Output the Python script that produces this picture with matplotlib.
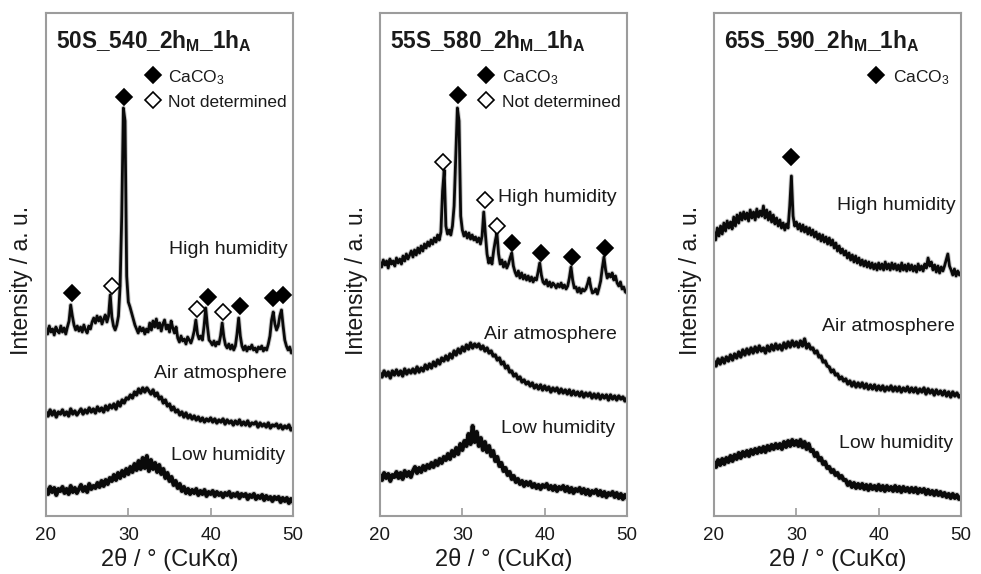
import numpy as np
import matplotlib
matplotlib.use("Agg")
import matplotlib.pyplot as plt

plt.rcParams['font.family'] = ['Liberation Sans', 'DejaVu Sans']
plt.rcParams['mathtext.fontset'] = 'custom'
plt.rcParams['mathtext.rm'] = 'Liberation Sans'
plt.rcParams['mathtext.it'] = 'Liberation Sans:italic'
plt.rcParams['mathtext.bf'] = 'Liberation Sans:bold'

# ---------------- data (stacked intensities, a.u.) ----------------
# High-humidity curves sampled every 0.2 deg, air/low every 0.25 deg (20..50)
x_fine = np.linspace(20, 50, 151)
x_coarse = np.linspace(20, 50, 121)

hh_50S = [188,182,190,184,187,181,189,185,183,190,
          184,188,182,189,195,211,200,191,186,190,
          185,189,184,191,186,183,190,187,194,198,
          193,200,195,199,192,197,201,194,200,221,
          199,190,186,191,200,230,300,408,395,240,
          214,209,203,197,191,187,183,189,185,188,
          182,187,184,193,186,195,189,197,188,193,
          185,192,196,187,191,184,195,188,183,189,
          178,174,180,175,177,172,179,176,173,178,
          185,196,182,177,180,176,190,208,190,176,
          174,171,175,170,174,172,180,193,179,171,
          168,172,167,171,166,170,182,198,180,170,
          166,170,165,169,167,171,166,168,164,169,
          167,170,165,168,166,172,180,196,204,192,
          186,190,200,206,190,176,170,166,169,163,
          164]
air_50S = [104,100,106,101,105,99,104,102,
           106,101,104,100,107,102,105,101,
           104,107,102,106,103,108,104,107,
           103,109,105,108,104,110,106,111,
           108,112,107,114,110,116,113,118,
           117,121,118,124,121,127,123,128,
           124,128,125,122,126,120,123,117,
           119,113,116,110,112,106,109,104,
           106,101,104,99,103,98,101,97,
           100,96,99,95,98,94,97,95,
           98,94,97,93,96,94,97,92,
           96,93,95,91,95,92,96,91,
           94,91,95,90,93,92,94,89,
           93,90,92,89,93,88,91,90,
           92,88,91,87,90,88,91,86,
           88]
low_50S = [27,22,29,24,28,21,27,25,
           29,23,27,22,30,24,28,23,
           27,31,25,29,24,32,27,30,
           28,33,29,35,30,36,32,38,
           35,41,36,43,38,45,40,47,
           42,49,44,52,46,55,47,58,
           48,60,45,56,47,53,44,51,
           42,47,38,43,35,39,31,35,
           28,32,25,29,23,27,22,26,
           23,27,21,25,22,26,20,24,
           22,25,20,24,21,23,19,23,
           21,24,19,22,20,23,18,22,
           20,22,17,21,19,22,17,20,
           18,21,16,20,17,19,15,19,
           17,19,14,18,15,18,13,17,
           14]

hh_55S = [254,249,256,251,255,248,257,252,255,250,
          258,253,257,252,260,255,262,257,261,265,
          259,266,261,268,263,270,265,272,268,274,
          270,276,272,278,274,281,276,284,325,346,
          290,282,286,281,290,310,360,408,395,300,
          286,280,284,278,283,277,281,276,279,274,
          278,272,280,304,282,262,253,258,252,265,
          275,283,262,252,256,249,254,248,252,258,
          263,250,244,240,245,238,243,237,241,236,
          240,235,239,234,238,236,244,253,241,234,
          232,236,230,234,229,233,231,228,232,229,
          233,228,231,227,230,238,249,236,228,229,
          224,228,223,227,225,227,232,238,229,223,
          224,227,222,228,235,248,259,246,238,242,
          239,243,236,240,233,230,234,227,229,224,
          223]
air_55S = [143,139,145,140,144,138,145,141,
           146,141,145,140,147,142,146,143,
           147,143,149,144,148,145,151,147,
           152,148,154,150,156,152,158,155,
           160,156,162,158,165,161,167,163,
           169,165,171,167,173,168,172,169,
           172,167,170,165,168,163,165,160,
           161,156,158,152,154,148,150,144,
           145,140,142,137,139,134,136,132,
           134,130,133,128,131,127,131,126,
           130,126,129,124,128,125,128,123,
           127,123,126,122,126,121,125,121,
           124,120,124,119,123,120,123,118,
           122,118,122,117,121,118,121,116,
           121,117,120,116,120,117,119,115,
           118]
low_55S = [41,36,43,38,42,35,41,39,
           44,38,43,37,45,40,44,39,
           45,49,43,48,44,50,46,51,
           48,53,49,55,51,57,53,59,
           56,62,57,65,60,68,62,72,
           66,75,70,82,72,90,74,84,
           70,78,66,74,64,70,60,65,
           55,59,50,53,45,48,41,44,
           37,40,34,37,32,35,30,34,
           31,34,29,32,28,31,27,31,
           29,32,27,30,26,30,25,29,
           27,30,25,29,24,28,23,27,
           25,28,23,27,22,26,21,25,
           23,26,21,25,20,24,19,23,
           21,24,19,23,18,22,17,21,
           18]

hh_65S = [284,276,288,280,290,282,293,285,295,288,
          294,287,299,290,301,293,303,296,304,297,
          303,295,306,298,304,296,307,299,305,300,
          310,298,306,296,304,294,301,292,298,290,
          296,288,293,286,292,288,310,340,300,290,
          294,287,292,285,291,284,289,282,288,281,
          286,279,284,277,282,275,281,274,279,272,
          278,271,276,268,273,265,270,263,267,261,
          265,258,263,256,261,254,260,253,258,251,
          256,250,255,249,254,248,253,247,252,246,
          253,247,252,246,254,247,252,246,253,247,
          252,246,251,245,253,246,251,245,252,246,
          251,245,250,244,252,246,250,245,252,248,
          258,250,254,246,251,244,250,243,249,245,
          250,256,262,250,246,241,247,240,245,241,
          244]
air_65S = [155,150,157,152,158,153,159,155,
           161,156,162,158,164,159,166,161,
           167,162,168,163,169,164,170,165,
           168,163,170,165,171,166,172,167,
           171,166,173,168,174,169,175,170,
           174,169,175,170,177,168,172,167,
           168,163,165,159,160,154,155,150,
           149,144,146,141,142,137,139,135,
           137,132,135,130,134,129,133,129,
           133,128,132,127,131,127,131,126,
           130,126,130,125,129,126,130,125,
           129,125,129,124,128,125,129,124,
           128,124,128,123,127,124,128,122,
           127,123,126,121,126,122,125,121,
           125,120,124,119,124,120,123,119,
           121]
low_65S = [54,49,56,51,57,52,58,54,
           60,55,61,57,63,58,64,60,
           65,60,66,62,67,63,68,64,
           69,64,70,66,71,67,72,68,
           72,67,74,69,75,70,76,71,
           75,70,76,69,74,67,72,65,
           66,60,63,56,58,52,54,48,
           49,44,46,41,43,38,40,36,
           36,31,34,29,33,28,32,28,
           32,27,31,26,31,27,30,26,
           31,26,30,25,30,26,29,25,
           30,25,29,24,29,25,28,24,
           28,24,28,23,27,24,27,22,
           26,22,25,21,25,21,24,20,
           23,19,22,18,22,18,21,17,
           19]

# peak markers: (2theta, height, filled?)
marks_50S = [(23.2, 223, True), (28.0, 230, False), (29.5, 419, True),
             (38.3, 207, False), (39.7, 219, True), (41.5, 204, False),
             (43.6, 210, True), (47.6, 218, True), (48.8, 221, True)]
marks_55S = [(27.7, 354, False), (29.5, 421, True), (32.8, 316, False),
             (34.2, 290, False), (36.0, 273, True), (39.6, 263, True),
             (43.3, 259, True), (47.3, 268, True)]
marks_65S = [(29.4, 359, True)]

titles = [r"50S_540_2h$_{\mathbf{M}}$_1h$_{\mathbf{A}}$",
          r"55S_580_2h$_{\mathbf{M}}$_1h$_{\mathbf{A}}$",
          r"65S_590_2h$_{\mathbf{M}}$_1h$_{\mathbf{A}}$"]
curve_labels = ["High humidity", "Air atmosphere", "Low humidity"]
xticks = [20, 30, 40, 50]

panels = [
    dict(hh=hh_50S, air=air_50S, low=low_50S, marks=marks_50S, title=titles[0],
         legend=["CaCO$_3$", "Not determined"], lx=33.0, tx=34.8,
         lab_pos=[(49.3, 267, 'right'), (49.3, 143, 'right'), (49.1, 61, 'right')]),
    dict(hh=hh_55S, air=air_55S, low=low_55S, marks=marks_55S, title=titles[1],
         legend=["CaCO$_3$", "Not determined"], lx=32.9, tx=34.8,
         lab_pos=[(48.8, 319, 'right'), (48.8, 182, 'right'), (48.6, 88, 'right')]),
    dict(hh=hh_65S, air=air_65S, low=low_65S, marks=marks_65S, title=titles[2],
         legend=["CaCO$_3$"], lx=39.7, tx=41.8,
         lab_pos=[(49.4, 311, 'right'), (49.2, 190, 'right'), (49.0, 73, 'right')]),
]

W, H = 981, 574
fig = plt.figure(figsize=(W / 100, H / 100), dpi=100)
lefts = [46, 380, 714]
ax_w, ax_top, ax_bot = 247, 13, 516
spine_col = '#9c9c9c'
txt_col = '#1a1a1a'
trace_lw = {'hh': 2.0, 'air': 2.4, 'low': 2.9}

for left, p in zip(lefts, panels):
    ax = fig.add_axes([left / W, 1 - ax_bot / H, ax_w / W, (ax_bot - ax_top) / H])
    ax.set_xlim(20, 50)
    ax.set_ylim(0, ax_bot - ax_top)
    for key, xs in (('hh', x_fine), ('air', x_coarse), ('low', x_coarse)):
        lw = trace_lw[key]
        # soft grey fringe + dark core to mimic the dense noisy trace
        ax.plot(xs, p[key], color='#666666', lw=lw + 1.4, alpha=0.35,
                solid_joinstyle='round', solid_capstyle='round')
        ax.plot(xs, p[key], color='#0a0a0a', lw=lw,
                solid_joinstyle='round', solid_capstyle='round')
    for (xm, ym, filled) in p['marks']:
        ax.plot([xm], [ym], marker='D', ms=8.5, mew=1.2, mec='black',
                mfc='black' if filled else 'white', ls='none', zorder=5)
    ax.text(20 + 10 / 8.23, 468, p['title'], fontsize=16.3, fontweight='bold',
            ha='left', va='baseline', color=txt_col)
    for i, lg in enumerate(p['legend']):
        y = 441 - 25 * i
        ax.plot([p['lx']], [y], marker='D', ms=8.5, mew=1.2, mec='black',
                mfc='black' if i == 0 else 'white', ls='none', zorder=5)
        ax.text(p['tx'], y - 7, lg, fontsize=12.5, ha='left', va='baseline',
                color=txt_col)
    for lab, (lx, ly, ha) in zip(curve_labels, p['lab_pos']):
        ax.text(lx, ly, lab, fontsize=14, ha=ha, va='center', color=txt_col)
    ax.set_xticks(xticks)
    ax.set_yticks([])
    ax.tick_params(axis='x', direction='in', length=6, width=1.2, color=spine_col,
                   labelsize=13.5, pad=8, labelcolor=txt_col)
    for s in ax.spines.values():
        s.set_color(spine_col)
        s.set_linewidth(1.5)
    ax.set_xlabel("2θ / ° (CuKα)", fontsize=17, color=txt_col, labelpad=3)
    fig.text((left - 24) / W, 1 - 280 / H, "Intensity / a. u.", rotation=90,
             fontsize=16.5, ha='center', va='center', color=txt_col)

fig.savefig("out.png", dpi=100)
